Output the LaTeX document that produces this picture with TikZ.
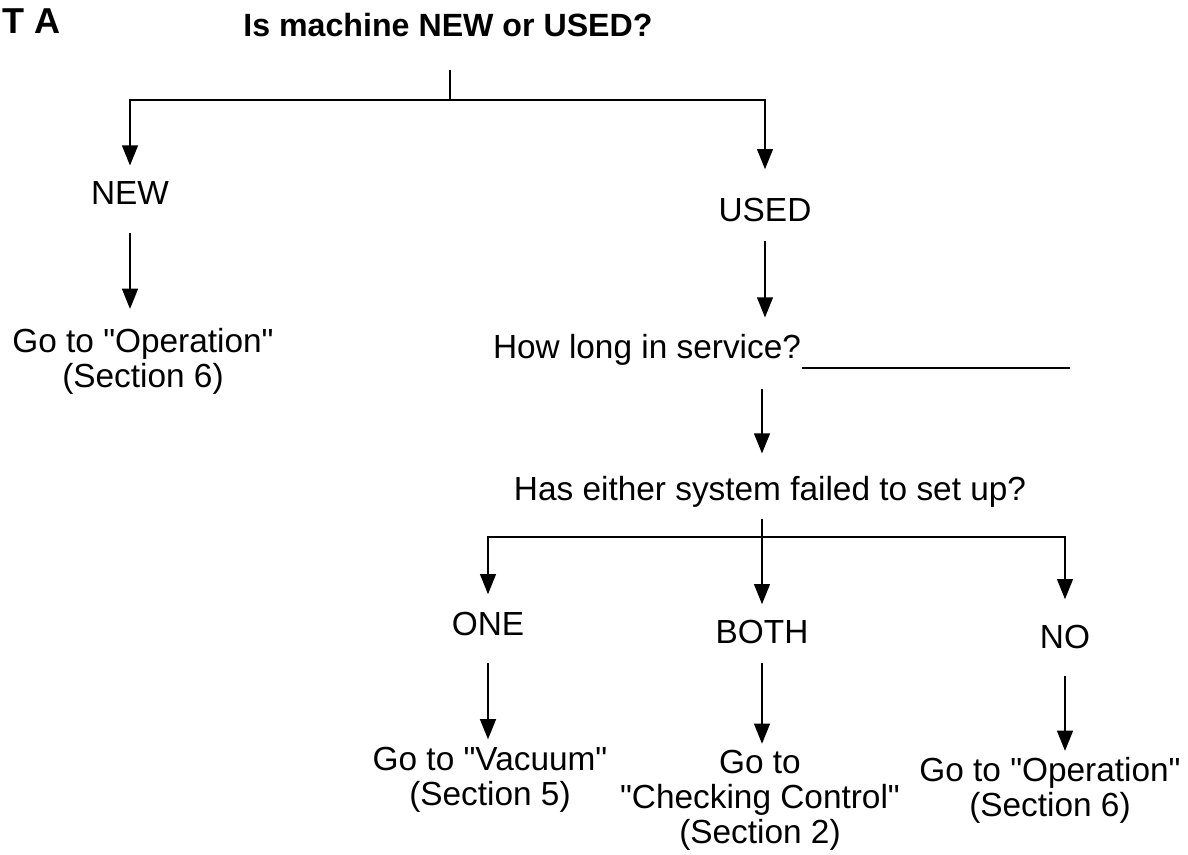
\documentclass[tikz,border=0pt]{standalone}
\usepackage{fontspec}
\setmainfont{Liberation Sans}[Ligatures=TeXOff]
\usetikzlibrary{arrows.meta}

\begin{document}
\begin{tikzpicture}[x=0.02cm, y=-0.02cm, line width=1.1pt,
  every node/.style={inner sep=0pt, font=\fontsize{19}{20}\selectfont},
  lbl/.style={align=center},
  head/.style={font=\fontsize{18.3}{20}\selectfont\bfseries},
  arr/.style={-{Triangle[length=11.5pt, width=9pt]}}]

\useasboundingbox[fill=white] (0,0) rectangle (1188,855);

% question
\node[head, font=\fontsize{20.5}{22}\selectfont\bfseries, anchor=west] (corner) at (2,21) {T A};
\node[head] (title) at (448,25) {Is machine NEW or USED?};
\coordinate (top) at (450,100);

% new
\node (new) at (130,193) {NEW};
\node[lbl] (op1) at (143,361) {Go to "Operation"\\(Section 6)};

% used
\node (used) at (765,210) {USED};
\node (svc) at (647,350) {How long in service?};
\coordinate (blank) at (1070,368);
\node (fail) at (770,492) {Has either system failed to set up?};
\coordinate (mid) at (762,537);

% answers
\node (one) at (488,624) {ONE};
\node (both) at (762,632) {BOTH};
\node (no) at (1065,637) {NO};
\node[lbl] (vac) at (490,780) {Go to "Vacuum"\\(Section 5)};
\node[lbl] (chk) at (760,800) {Go to\\"Checking Control"\\(Section 2)};
\node[lbl] (op2) at (1050,790) {Go to "Operation"\\(Section 6)};

% connectors
\draw[shorten <=0.64cm] (title.south -| top) -- (top);
\draw[arr, shorten >=0.3cm] (top) -| (new);
\draw[arr, shorten >=0.56cm] (top) -| (used);
\draw[arr, shorten <=0.56cm, shorten >=0.36cm] (new) -- (new |- op1.north);
\draw[arr, shorten <=0.36cm, shorten >=0.32cm] (used) -- (used |- svc.north);
\draw (svc.east |- blank) -- (blank);
\draw[arr, shorten <=0.44cm, shorten >=0.44cm] (svc.south -| mid) -- (fail.north -| mid);
\draw[arr, shorten <=0.2cm, shorten >=0.3cm] (fail.south -| both) -- (both);
\draw[arr, shorten >=0.34cm] (mid) -| (one);
\draw[arr, shorten >=0.5cm] (mid) -| (no);
\draw[arr, shorten <=0.52cm, shorten >=0.14cm] (one) -- (one |- vac.north);
\draw[arr, shorten <=0.36cm, shorten >=0.1cm] (both) -- (both |- chk.north);
\draw[arr, shorten <=0.52cm, shorten >=0.1cm] (no) -- (no |- op2.north);

\end{tikzpicture}
\end{document}
